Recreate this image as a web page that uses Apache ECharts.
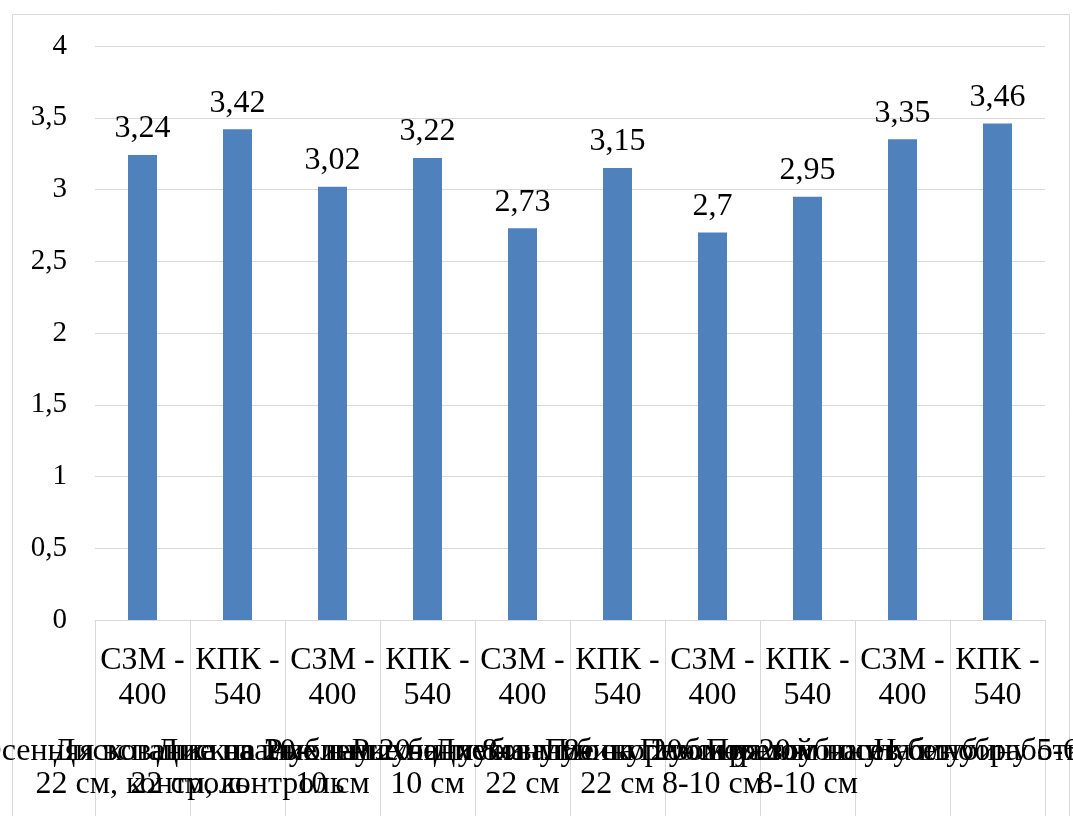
<!DOCTYPE html>
<html>
<head>
<meta charset="utf-8">
<script src="https://cdn.jsdelivr.net/npm/echarts@6/dist/echarts.min.js"></script>
<style>
html,body{margin:0;padding:0;background:#fff;}
#chart{width:1073px;height:816px;}
</style>
</head>
<body>
<div id="chart"></div>
<script>
// Data
const machines = ['СЗМ -\n400', 'КПК -\n540', 'СЗМ -\n400', 'КПК -\n540', 'СЗМ -\n400', 'КПК -\n540', 'СЗМ -\n400', 'КПК -\n540', 'СЗМ -\n400', 'КПК -\n540'];
const treatments = [
  'Осенняя вспашка на 20-\n22 см, контроль',
  'Дискование на глубину 20-\n22 см, контроль',
  'Дискование на глубину 8-\n10 см',
  'Рыхление на глубину 8-\n10 см',
  'Рыхление на глубину 20-\n22 см',
  'Дискование на глубину 20-\n22 см',
  'Плоскорезом на глубину\n8-10 см',
  'Плоскорезом на глубину\n8-10 см',
  'Прямой посев без обработки',
  'На глубину 5-6 см'
];
const values = [3.24, 3.42, 3.02, 3.22, 2.73, 3.15, 2.7, 2.95, 3.35, 3.46];
const yTicks = { min: 0, max: 4, interval: 0.5 };

const FONT = '"Liberation Serif", "Times New Roman", serif';
const GRID = '#d9d9d9';
const fmt = v => String(v).replace('.', ',');

const chart = echarts.init(document.getElementById('chart'), null, { renderer: 'canvas' });
chart.setOption({
  animation: false,
  backgroundColor: '#fff',
  graphic: [{
    type: 'rect',
    shape: { x: 12.5, y: 14.5, width: 1057, height: 900 },
    style: { fill: 'none', stroke: GRID, lineWidth: 1 },
    silent: true,
    z: -1
  }],
  grid: { left: 95, right: 28, top: 46, bottom: 196, containLabel: false, outerBoundsMode: 'none' },
  xAxis: [{
    type: 'category',
    data: machines,
    position: 'bottom',
    axisLine: { show: true, lineStyle: { color: GRID, width: 1 } },
    axisTick: { show: true, interval: 0, length: 200, lineStyle: { color: GRID, width: 1 } },
    axisLabel: {
      interval: 0, margin: 23, fontFamily: FONT, fontSize: 32, lineHeight: 35,
      color: '#000', align: 'center'
    }
  }, {
    type: 'category',
    data: treatments,
    position: 'bottom',
    axisLine: { show: false },
    axisTick: { show: false },
    axisLabel: {
      interval: 0, margin: 115, fontFamily: FONT, fontSize: 32, lineHeight: 33,
      color: '#000', align: 'center', hideOverlap: false
    }
  }],
  yAxis: {
    type: 'value',
    min: yTicks.min, max: yTicks.max, interval: yTicks.interval,
    axisLine: { show: false },
    axisTick: { show: false },
    splitLine: { show: true, lineStyle: { color: GRID, width: 1 } },
    axisLabel: {
      margin: 28, fontFamily: FONT, fontSize: 29, color: '#000',
      formatter: v => fmt(v)
    }
  },
  series: [{
    type: 'bar',
    xAxisIndex: 0,
    data: values,
    barWidth: 29,
    itemStyle: { color: '#4f81bd' },
    label: {
      show: true, position: 'top', distance: 10,
      fontFamily: FONT, fontSize: 32, color: '#000',
      formatter: p => fmt(p.value)
    }
  }]
});
</script>
</body>
</html>
